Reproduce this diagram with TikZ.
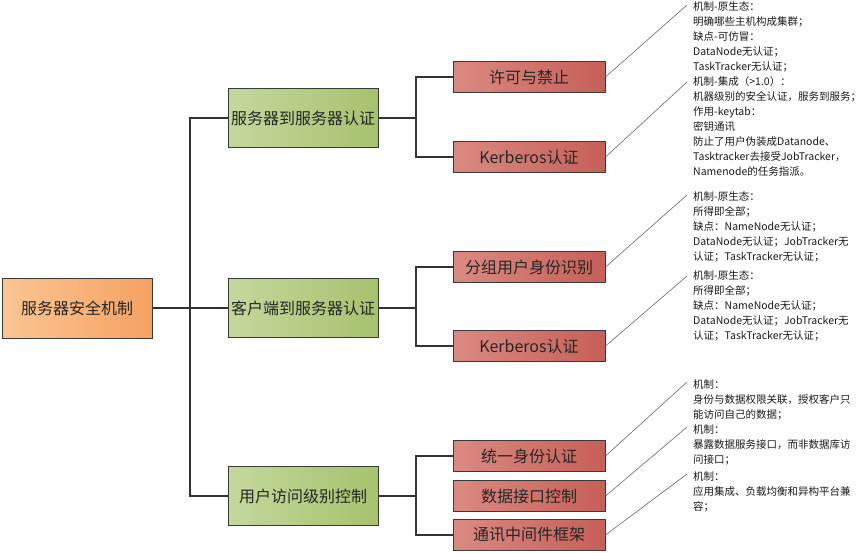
\documentclass[tikz,border=0pt]{standalone}
\usepackage{fontspec}
\setmainfont{Noto Sans CJK SC}
\definecolor{rootleft}{HTML}{FBC592}
\definecolor{rootright}{HTML}{F4A262}
\definecolor{catleft}{HTML}{C4D89C}
\definecolor{catright}{HTML}{A7C26E}
\definecolor{itemleft}{HTML}{DA8A82}
\definecolor{itemright}{HTML}{C65F57}
\definecolor{boxline}{HTML}{3A3A3A}
\definecolor{treeline}{HTML}{333333}
\usetikzlibrary{positioning, calc}

\begin{document}
\begin{tikzpicture}[x=1pt, y=-1pt, every node/.style={font=\fontsize{16}{19}\selectfont, text=black!85}]
        \tikzset{rootbox/.style={draw=boxline, line width=1pt, left color=rootleft, right color=rootright,
                 minimum width=150pt, minimum height=60pt, inner sep=2pt},
                 catbox/.style={draw=boxline, line width=1pt, left color=catleft, right color=catright,
                 minimum width=150pt, minimum height=59pt, inner sep=2pt},
                 itembox/.style={draw=boxline, line width=1pt, left color=itemleft, right color=itemright,
                 minimum width=152pt, minimum height=31pt, inner sep=1pt},
                 notetext/.style={anchor=north west, align=left, inner xsep=6pt, inner ysep=0pt,
                 font=\fontsize{10.5}{15.1}\selectfont, text=black!90},
                 branch/.style={draw=treeline, line width=2pt},
                 pointer/.style={draw=black!60, line width=0.6pt}}
        \useasboundingbox (0,0) rectangle (864,552);

        % boxes
        \node[rootbox] (root) at (77,308) {服务器安全机制};

        \node[catbox]  (srv)  at (303,118) {服务器到服务器认证};
        \node[catbox]  (cli)  at (303,308) {客户端到服务器认证};
        \node[catbox]  (usr)  at (303,496) {用户访问级别控制};

        \node[itembox] (perm) at (529,77)  {许可与禁止};
        \node[itembox] (krbA) at (529,157) {Kerberos认证};
        \node[itembox] (grp)  at (529,267) {分组用户身份识别};
        \node[itembox] (krbB) at (529,346) {Kerberos认证};
        \node[itembox] (uid)  at (529,456) {统一身份认证};
        \node[itembox] (dif)  at (529,496) {数据接口控制};
        \node[itembox] (mid)  at (529,535) {通讯中间件框架};

        % tree
        \draw[branch] (root.east) -- ++(37,0) coordinate (rootfork);
        \draw[branch] (rootfork) -- (cli.west);
        \draw[branch] (rootfork) |- (srv.west);
        \draw[branch] (rootfork) |- (usr.west);

        \draw[branch] (srv.east) -- ++(37,0) coordinate (srvfork);
        \draw[branch] (srvfork) |- (perm.west);
        \draw[branch] (srvfork) |- (krbA.west);

        \draw[branch] (cli.east) -- ++(37,0) coordinate (clifork);
        \draw[branch] (clifork) |- (grp.west);
        \draw[branch] (clifork) |- (krbB.west);

        \draw[branch] (usr.east) -- ++(37,0) coordinate (usrfork);
        \draw[branch] (usrfork) |- (uid.west);
        \draw[branch] (usrfork) |- (mid.west);

        % notes
        \node[notetext] (permnote) at (687,1) {机制-原生态：\\明确哪些主机构成集群；\\缺点-可仿冒：\\DataNode无认证；\\TaskTracker无认证；};
        \node[notetext] (krbAnote) at (687,76) {机制-集成（>1.0）：\\机器级别的安全认证，服务到服务；\\作用-keytab：\\密钥通讯\\防止了用户伪装成Datanode、\\Tasktracker去接受JobTracker，\\Namenode的任务指派。};
        \node[notetext] (grpnote)  at (687,191) {机制-原生态：\\所得即全部；\\缺点：NameNode无认证；\\DataNode无认证；JobTracker无\\认证；TaskTracker无认证；};
        \node[notetext] (krbBnote) at (687,270) {机制-原生态：\\所得即全部；\\缺点：NameNode无认证；\\DataNode无认证；JobTracker无\\认证；TaskTracker无认证；};
        \node[notetext] (uidnote)  at (687,379) {机制：\\身份与数据权限关联，授权客户只\\能访问自己的数据；};
        \node[notetext] (difnote)  at (687,424) {机制：\\暴露数据服务接口，而非数据库访\\问接口；};
        \node[notetext] (midnote)  at (687,471) {机制：\\应用集成、负载均衡和异构平台兼\\容；};

        \draw[pointer] (perm.east) -- ([yshift=-4]permnote.north west);
        \draw[pointer] (krbA.east) -- ([yshift=-6]krbAnote.north west);
        \draw[pointer] (grp.east)  -- ([yshift=-4]grpnote.north west);
        \draw[pointer] (krbB.east) -- ([yshift=-6]krbBnote.north west);
        \draw[pointer] (uid.east)  -- ([yshift=-3]uidnote.north west);
        \draw[pointer] (dif.east)  -- ([yshift=-3]difnote.north west);
        \draw[pointer] (mid.east)  -- ([yshift=-3]midnote.north west);
      \end{tikzpicture}
\end{document}
